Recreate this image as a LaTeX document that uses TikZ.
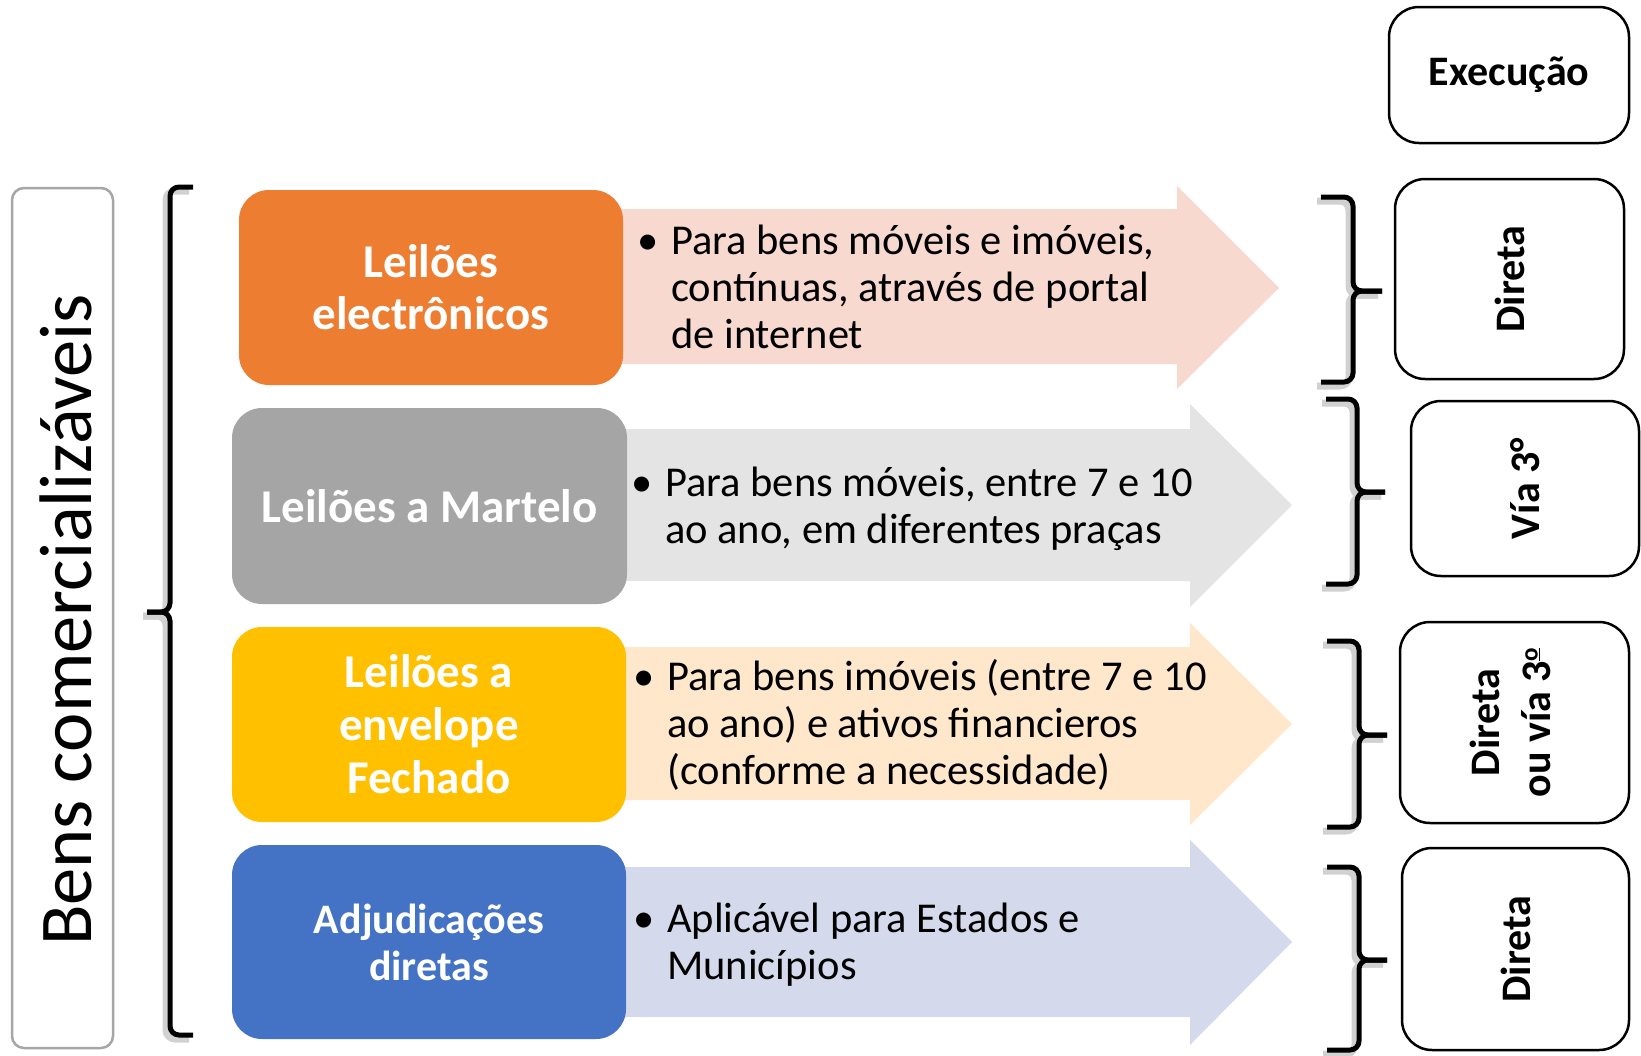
\documentclass[tikz,border=0pt]{standalone}
\usepackage{fontspec}
\setmainfont{Carlito}
\usepackage{graphicx}
\definecolor{orgC}{HTML}{ED7D31}
\definecolor{grayC}{HTML}{A5A5A5}
\definecolor{yelC}{HTML}{FFC000}
\definecolor{bluC}{HTML}{4472C4}
\definecolor{pinkA}{HTML}{F8D9D0}
\definecolor{grayA}{HTML}{E4E4E4}
\definecolor{peachA}{HTML}{FFE7CC}
\definecolor{blueA}{HTML}{D4DAEC}
\definecolor{labelB}{HTML}{A6A6A6}
\newcommand{\ordo}{\raisebox{0.62ex}{\fontsize{25}{25}\selectfont\underline{o}}}
\begin{document}
\begin{tikzpicture}[x=1pt,y=-1pt,
  catbox/.style={rounded corners=30pt, text=white, align=center, inner sep=0pt,
    font=\bfseries\fontsize{47}{52}\selectfont},
  desc/.style={inner sep=0pt, anchor=west, font=\fontsize{42.5}{47}\selectfont},
  execbox/.style={draw=black, line width=2.5pt, rounded corners=30pt, inner sep=0pt,
    font=\bfseries\fontsize{42}{51}\selectfont},
  bracepath/.style={draw=black, line width=5pt, rounded corners=9pt},
  braceshadow/.style={draw=black!18, line width=7pt, rounded corners=9pt, shift={(-4,4)}},
]
\useasboundingbox (0,0) rectangle (1641,1055);

% left label
\node[draw=labelB, line width=2.5pt, rounded corners=12pt, minimum width=101pt, minimum height=860pt, inner sep=0pt] (lbl) at (62.5,618) {};
\node[rotate=90, font=\fontsize{74.5}{80}\selectfont, inner sep=0pt] (lbltxt) at (66,620) {Bens comercializáveis};

% big left brace
\draw[braceshadow] (193,187) -- (170,187) -- (170,612) -- (147,612);
\draw[braceshadow] (193,1035) -- (170,1035) -- (170,612) -- (147,612);
\draw[bracepath] (193,187) -- (170,187) -- (170,612) -- (147,612);
\draw[bracepath] (193,1035) -- (170,1035) -- (170,612) -- (147,612);

% arrows
\fill[pinkA] (600,209) -- (1177,209) -- (1177,186) -- (1279,288) -- (1177,389) -- (1177,364) -- (600,364) -- cycle;
\fill[grayA] (600,429) -- (1190,429) -- (1190,404) -- (1292,505) -- (1190,607) -- (1190,581) -- (600,581) -- cycle;
\fill[peachA] (600,647) -- (1190,647) -- (1190,623) -- (1292,724) -- (1190,825) -- (1190,800) -- (600,800) -- cycle;
\fill[blueA] (600,867) -- (1190,867) -- (1190,840) -- (1292,942) -- (1190,1045) -- (1190,1017) -- (600,1017) -- cycle;

% category boxes
\node[catbox, fill=orgC, minimum width=384pt, minimum height=195pt] (le) at (431,287.5) {Leilões\\electrônicos};
\node[catbox, fill=grayC, minimum width=395pt, minimum height=196pt] (lm) at (429.5,506) {Leilões a Martelo};
\node[catbox, fill=yelC, minimum width=394pt, minimum height=195pt, font=\bfseries\fontsize{47}{53}\selectfont] (lf) at (429,724.5) {Leilões a\\envelope\\Fechado};
\node[catbox, fill=bluC, minimum width=394pt, minimum height=194pt, font=\bfseries\fontsize{42}{47}\selectfont] (ad) at (429,942) {Adjudicações\\diretas};

% descriptions
\node[desc] (t1) at (637,292) {\begin{tabular}{@{}p{34pt}@{}l@{}}•&Para bens móveis e imóveis,\\&contínuas, através de portal\\&de internet\end{tabular}};
\node[desc] (t2) at (631,511) {\begin{tabular}{@{}p{34pt}@{}l@{}}•&Para bens móveis, entre 7 e 10\\&ao ano, em diferentes praças\end{tabular}};
\node[desc] (t3) at (633,728) {\begin{tabular}{@{}p{34pt}@{}l@{}}•&Para bens imóveis (entre 7 e 10\\&ao ano) e ativos financieros\\&(conforme a necessidade)\end{tabular}};
\node[desc] (t4) at (633,947) {\begin{tabular}{@{}p{34pt}@{}l@{}}•&Aplicável para Estados e\\&Municípios\end{tabular}};

% right braces
\foreach \ya/\ym/\yb/\xv/\xe/\xt in {197/291/382/1353/1321/1382, 399/492/584/1357/1326/1385, 641/735/827/1359/1327/1387, 867/960/1050/1359/1327/1387}{
  \draw[braceshadow] (\xe,\ya) -- (\xv,\ya) -- (\xv,\ym) -- (\xt,\ym);
  \draw[braceshadow] (\xe,\yb) -- (\xv,\yb) -- (\xv,\ym) -- (\xt,\ym);
  \draw[bracepath] (\xe,\ya) -- (\xv,\ya) -- (\xv,\ym) -- (\xt,\ym);
  \draw[bracepath] (\xe,\yb) -- (\xv,\yb) -- (\xv,\ym) -- (\xt,\ym);
}

% execution boxes
\node[execbox, minimum width=240pt, minimum height=136pt] (ex) at (1509,75) {Execução};
\node[execbox, minimum width=229pt, minimum height=200pt] (d1) at (1509.5,279) {\rotatebox{90}{Direta}};
\node[execbox, minimum width=228pt, minimum height=175pt] (v3) at (1525,488.5) {\rotatebox{90}{Vía 3°}};
\node[execbox, minimum width=229pt, minimum height=201pt] (dv) at (1514.5,722.5) {\rotatebox{90}{\begin{tabular}{@{}c@{}}Direta\\ou vía 3\ordo\end{tabular}}};
\node[execbox, minimum width=227pt, minimum height=202pt] (d4) at (1515.5,949) {\rotatebox{90}{Direta}};
\end{tikzpicture}
\end{document}
